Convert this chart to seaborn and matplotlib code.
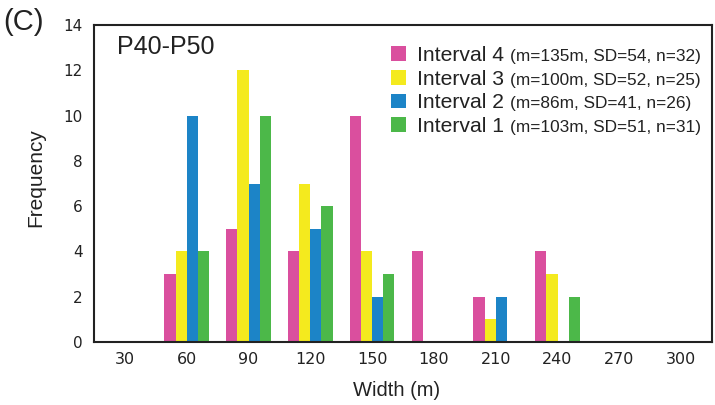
import matplotlib
matplotlib.use("Agg")
import matplotlib.pyplot as plt
import numpy as np
import pandas as pd
import seaborn as sns
from matplotlib.patches import Patch

# bin labels (m)
widths = ["30", "60", "90", "120", "150", "180", "210", "240", "270", "300"]

# frequencies per interval
interval4 = [0, 3, 5, 4, 10, 4, 2, 4, 0, 0]
interval3 = [0, 4, 12, 7, 4, 0, 1, 3, 0, 0]
interval2 = [0, 10, 7, 5, 2, 0, 2, 0, 0, 0]
interval1 = [0, 4, 10, 6, 3, 0, 0, 2, 0, 0]

names = ["Interval 4", "Interval 3", "Interval 2", "Interval 1"]
stats = ["(m=135m, SD=54, n=32)", "(m=100m, SD=52, n=25)",
         "(m=86m, SD=41, n=26)", "(m=103m, SD=51, n=31)"]
colors = ["#DA4F9E", "#F4EA1E", "#1C84C7", "#4CB849"]

rows = []
for name, vals in zip(names, [interval4, interval3, interval2, interval1]):
    for w, v in zip(widths, vals):
        rows.append({"width": w, "interval": name, "freq": v})
df = pd.DataFrame(rows)

sns.set_style("white")
plt.rcParams["font.family"] = ["Liberation Sans", "DejaVu Sans"]

fig = plt.figure(figsize=(7.15, 4.05), dpi=100)
ax = fig.add_axes([94 / 715, 1 - 342 / 405, 618 / 715, 317 / 405])

sns.barplot(data=df, x="width", y="freq", hue="interval", order=widths,
            hue_order=names, palette=colors, width=0.72, linewidth=0,
            saturation=1, legend=False, ax=ax)

ax.set_xlim(-0.5, len(widths) - 0.5)
ax.set_ylim(0, 14)
ax.set_yticks(np.arange(0, 15, 2))

# labels centred in bins, tick marks on the bin edges
ax.set_xticks(np.arange(len(widths)))
ax.set_xticklabels(widths, family="DejaVu Sans", fontsize=11.5, color="#222222")
ax.set_xticks(np.arange(len(widths) + 1) - 0.5, minor=True)
ax.tick_params(axis="x", which="major", length=0, pad=7)
ax.tick_params(axis="x", which="minor", length=4, width=0.8, color="#888888",
               direction="out")
ax.tick_params(axis="y", length=5, width=0.8, color="#888888", direction="out",
               pad=3)
for lab in ax.get_yticklabels():
    lab.set_family("DejaVu Sans")
    lab.set_fontsize(11)
    lab.set_color("#222222")

for s in ax.spines.values():
    s.set_visible(True)
    s.set_color("#222222")
    s.set_linewidth(1.5)

ax.set_xlabel("Width (m)", fontsize=14.5, color="#222222")
ax.set_ylabel("Frequency", fontsize=15, color="#222222")
ax.xaxis.set_label_coords(0.49, -0.123)
ax.yaxis.set_label_coords(-0.079, 0.52)

ax.text(0.037, 0.93, "P40-P50", transform=ax.transAxes, fontsize=18,
        va="center", ha="left", color="#222222")
fig.text(0.005, 0.945, "(C)", fontsize=21, va="center", ha="left",
         color="#222222")

handles = [Patch(facecolor=c, edgecolor="none") for c in colors]
leg = ax.legend(handles, names, loc="upper left",
                bbox_to_anchor=(0.4806, 0.9337), frameon=False,
                fontsize=15.2, handlelength=0.7, handleheight=0.7,
                handletextpad=0.55, labelspacing=0.22, borderpad=0,
                borderaxespad=0)
for t in leg.get_texts():
    t.set_color("#222222")

# smaller stats text right after each legend label, on the same baseline
fig.canvas.draw()
renderer = fig.canvas.get_renderer()
for t, s in zip(leg.get_texts(), stats):
    x1 = t.get_window_extent(renderer).x1
    yb = t.get_transform().transform(t.get_position())[1]
    fig.text(x1 + 6, yb, s, transform=None, fontsize=12.4, va="baseline",
             ha="left", color="#222222")

plt.savefig("out.png", dpi=100)
